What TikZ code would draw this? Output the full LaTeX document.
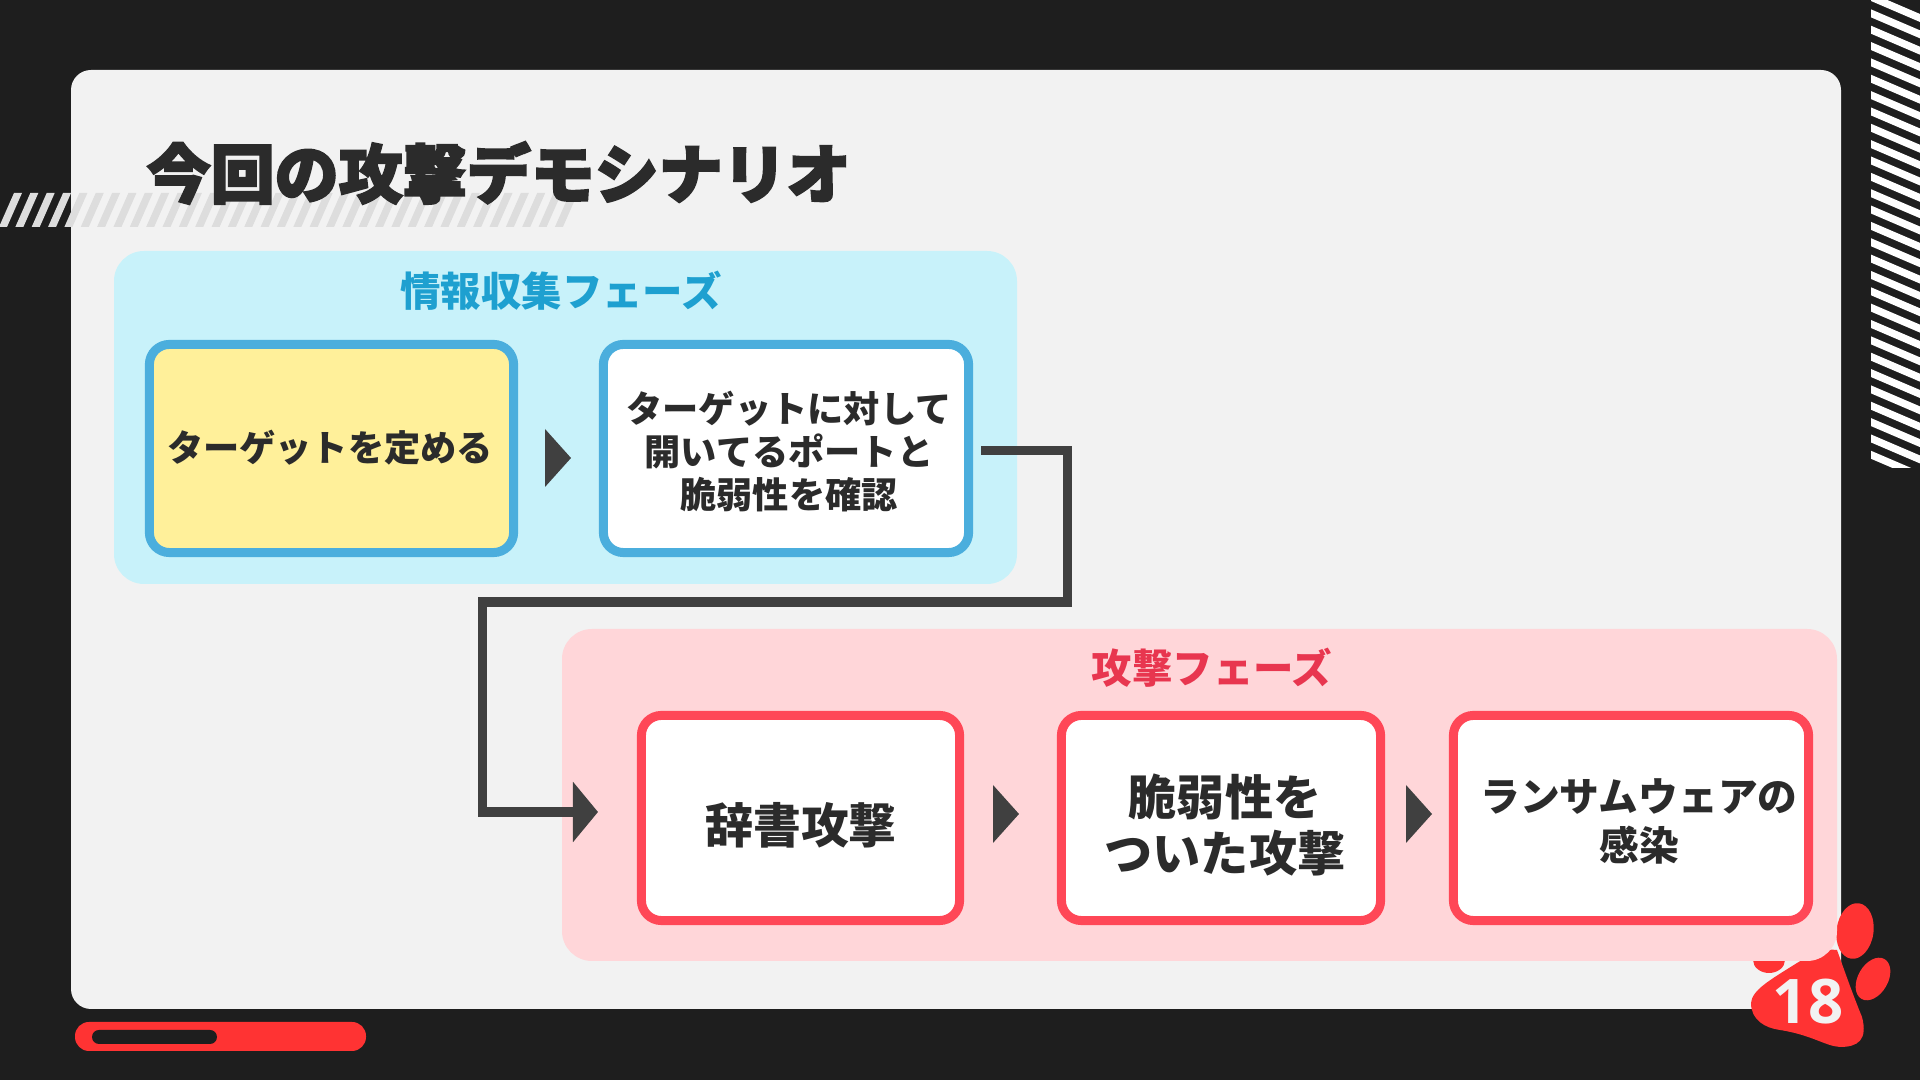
\documentclass[tikz,border=0pt]{standalone}
\usepackage{fontspec}
\usetikzlibrary{arrows.meta}
\setmainfont{Noto Sans CJK JP}
\newfontfamily\titlefont{Noto Sans CJK JP Black}[FakeBold=3.2]
\newfontfamily\pagefont{Open Sans}
\definecolor{SlideDark}{HTML}{1E1E1E}
\definecolor{SlideCard}{HTML}{F2F2F2}
\definecolor{SlideStripe}{HTML}{DDDDDD}
\definecolor{SlideRed}{HTML}{FF3333}
\definecolor{InfoPanel}{HTML}{C8F2FA}
\definecolor{InfoEdge}{HTML}{4BAEDD}
\definecolor{InfoTitle}{HTML}{1EA0D0}
\definecolor{AttackPanel}{HTML}{FFD6D9}
\definecolor{AttackEdge}{HTML}{FF4757}
\definecolor{AttackTitle}{HTML}{E8364F}
\definecolor{StepYellow}{HTML}{FFF09A}
\definecolor{FlowGray}{HTML}{404040}
\definecolor{TextDark}{HTML}{2B2B2B}
\tikzset{
  phasepanel/.style={rounded corners=0.3cm,inner sep=0pt},
  stepbox/.style={draw,fill=white,line width=0.09cm,rounded corners=0.2cm,inner sep=0pt},
  steptext/.style={inner sep=0pt,align=center,text=TextDark},
  phasetitle/.style={font=\bfseries\fontsize{11.5pt}{13pt}\selectfont},
  flowline/.style={FlowGray,line width=0.095cm},
}
\begin{document}
\begin{tikzpicture}[x=0.01cm,y=-0.01cm]
  % One px of the 1920x1080 slide is one unit; y runs downwards.
  \newcommand{\stepmark}[2]{%
    \fill[FlowGray] (#1,{#2-29}) -- ({#1+26},#2) -- (#1,{#2+29}) -- cycle;
  }
  \fill[SlideDark] (0,0) rectangle (1920,1080);
  \useasboundingbox (0,0) rectangle (1920,1080);
  \fill[SlideCard,rounded corners=0.2cm] (71,70) rectangle (1841,1009);

  \foreach \n in {0,...,28} {
    \fill[white] (1871,{\n*16.35-7}) -- (1920,{\n*16.35+14}) -- (1920,{\n*16.35+22})
      -- (1871,{\n*16.35+1}) -- cycle;
  }
  \fill[SlideDark] (1860,468) rectangle (1920,500);
  \foreach \n in {0,...,34} {
    \fill[SlideStripe] ({\n*16.35-1},227) -- ({\n*16.35+7},227) -- ({\n*16.35+22},193) -- ({\n*16.35+14},193) -- cycle;
  }

  % paw sits under the attack panel
  \fill[SlideRed,rotate around={-8:(1855,931)}] (1855,931) ellipse[x radius=18.5,y radius=28];
  \fill[SlideRed,rotate around={-30:(1873,979)}] (1873,979) ellipse[x radius=15,y radius=23];
  \fill[SlideRed] (1769,960) ellipse[x radius=16,y radius=13];
  \fill[SlideRed] (1837,950) .. controls (1846,975) and (1853,995) .. (1862,1017)
    .. controls (1868,1040) and (1858,1047) .. (1840,1047)
    .. controls (1825,1046) and (1812,1035) .. (1780,1030)
    .. controls (1765,1028) and (1751,1020) .. (1751,1003)
    .. controls (1752,990) and (1770,980) .. (1797,963)
    .. controls (1810,955) and (1825,948) .. (1837,950) -- cycle;
  \node[font=\pagefont\bfseries\fontsize{17.5pt}{20pt}\selectfont,text=SlideCard] (pagenum) at (1808,1002) {18};

  \fill[SlideRed,rounded corners=0.14cm] (75,1022) rectangle (366,1051);
  \fill[SlideDark,rounded corners=0.07cm] (92,1030) rectangle (217,1044);

  \node[anchor=west,inner sep=0pt,text=TextDark,font=\titlefont\fontsize{18.2pt}{20pt}\selectfont] (slidetitle)
    at (146,173) {今回の攻撃デモシナリオ};

  \fill[InfoPanel,phasepanel] (114,251) rectangle (1017,584);
  \fill[AttackPanel,phasepanel] (562,629) rectangle (1837,961);
  \node[phasetitle,text=InfoTitle] (infotitle) at (561,291) {情報収集フェーズ};
  \node[phasetitle,text=AttackTitle] (attacktitle) at (1212,668) {攻撃フェーズ};

  \node[stepbox,draw=InfoEdge,fill=StepYellow,minimum width=3.64cm,minimum height=2.08cm] (choosetarget) at (331.5,448.5) {};
  \node[stepbox,draw=InfoEdge,minimum width=3.65cm,minimum height=2.08cm] (portscan) at (786,448.5) {};
  \node[stepbox,draw=AttackEdge,minimum width=3.18cm,minimum height=2.05cm] (dictattack) at (800.5,818) {};
  \node[stepbox,draw=AttackEdge,minimum width=3.19cm,minimum height=2.05cm] (exploit) at (1221,818) {};
  \node[stepbox,draw=AttackEdge,minimum width=3.55cm,minimum height=2.05cm] (ransomware) at (1631,818) {};

  \node[steptext,font=\bfseries\fontsize{10.3pt}{12.3pt}\selectfont] (choosetargettext) at (330,447.5) {ターゲットを定める};
  \node[steptext,font=\bfseries\fontsize{10.3pt}{12.3pt}\selectfont] (portscantext) at (789,451.5)
    {ターゲットに対して\\開いてるポートと\\脆弱性を確認};
  \node[steptext,font=\bfseries\fontsize{13.6pt}{15.6pt}\selectfont] (dictattacktext) at (801,825) {辞書攻撃};
  \node[steptext,font=\bfseries\fontsize{13.7pt}{16.2pt}\selectfont] (exploittext) at (1225,825) {脆弱性を\\ついた攻撃};
  \node[steptext,font=\bfseries\fontsize{11.3pt}{13.9pt}\selectfont] (ransomwaretext) at (1639,821.5) {ランサムウェアの\\感染};

  \stepmark{545}{458}
  \stepmark{993}{814}
  \stepmark{1406}{814}

  \coordinate (dictentry) at (598,812);
  \draw[flowline,shorten <=0.08cm,-{Triangle[length=0.25cm,width=0.59cm]}]
    ([yshift=-0.02cm]portscan.east) -| (1067.5,602) -- (482.5,602) |- (dictentry);
\end{tikzpicture}
\end{document}
